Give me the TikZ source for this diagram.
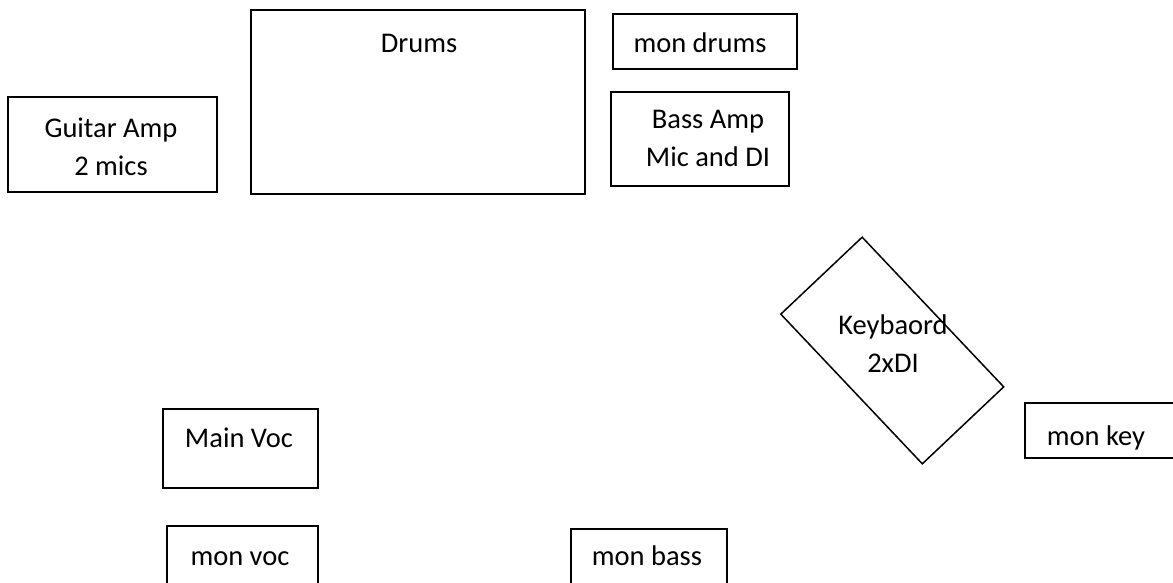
\documentclass[tikz,border=0pt]{standalone}
\usepackage{fontspec}
\setmainfont{Carlito}
\begin{document}
\begin{tikzpicture}[x=1pt,y=-1pt,
  box/.style={draw,line width=1.5pt,rectangle,inner sep=0pt,outer sep=0pt},
  lbl/.style={inner sep=0pt,outer sep=0pt,anchor=base,align=center,font=\fontsize{28.5}{38}\selectfont}]
\clip (0,0) rectangle (1173,582);
% boxes
\node[box,minimum width=209pt,minimum height=95pt] (guitar) at (112.5,144.5) {};
\node[box,minimum width=334pt,minimum height=184pt] (drums) at (418,102) {};
\node[box,minimum width=184pt,minimum height=55pt] (mondrums) at (705,41.5) {};
\node[box,minimum width=178pt,minimum height=94pt] (bassamp) at (700,139) {};
\node[box,minimum width=155pt,minimum height=79pt] (mainvoc) at (240.5,448.5) {};
\node[box,minimum width=151pt,minimum height=74pt] (monvoc) at (242.5,563) {};
\node[box,minimum width=156pt,minimum height=71pt] (monbass) at (649,564.5) {};
\node[box,minimum width=165pt,minimum height=55pt] (monkey) at (1107.5,430.5) {};
\node[box,minimum width=206pt,minimum height=112pt,rotate=-46.6] (kbd) at (892.25,350.5) {};
% labels (base = baseline of the last line)
\node[lbl] (tguitar) at (111,175) {Guitar Amp\\2 mics};
\node[lbl] (tdrums) at (419,52) {Drums};
\node[lbl] (tmondrums) at (700,52) {mon drums};
\node[lbl] (tbassamp) at (708,166) {Bass Amp\\Mic and DI};
\node[lbl] (tmainvoc) at (239,447) {Main Voc};
\node[lbl] (tmonvoc) at (240,565) {mon voc};
\node[lbl] (tmonbass) at (647,565) {mon bass};
\node[lbl] (tmonkey) at (1096,445) {mon key};
\node[lbl] (tkbd) at (893,372) {Keybaord\\2xDI};
\end{tikzpicture}
\end{document}
